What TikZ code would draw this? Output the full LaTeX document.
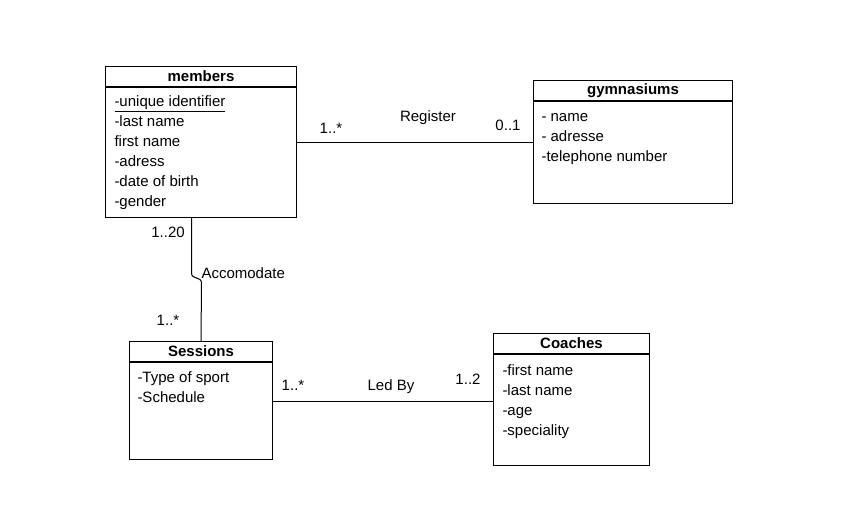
\documentclass[tikz,border=0pt]{standalone}
\usepackage{fontspec}
\setmainfont{Liberation Sans}
\usetikzlibrary{positioning}

\begin{document}
\begin{tikzpicture}[x=1pt,y=-1pt,line width=1pt,
	font=\fontsize{15}{20}\selectfont,
	head/.style={draw,anchor=north west,minimum height=20,inner sep=0,font=\fontsize{15}{20}\selectfont\bfseries},
	body/.style={draw,anchor=north west,inner sep=0},
	attr/.style={anchor=west,inner sep=0,text height=10.7pt,text depth=0pt},
	mult/.style={inner sep=0,text height=10.7pt,text depth=0pt}]
\useasboundingbox[fill=white] (0,0) rectangle (852,526);

\node[head,minimum width=191] (members) at (105,66) {members};
\node[body,minimum width=191,minimum height=130] (members-body) at (members.south west) {};
\foreach \t [count=\i] in {\underline{-unique identifier},-last name,first name,-adress,-date of birth,-gender}
	\node[attr] (members-\i) at ([xshift=9,yshift={6-20*\i}]members-body.north west) {\t};

\node[head,minimum width=199] (gym) at (533,80) {gymnasiums};
\node[body,minimum width=199,minimum height=102] (gym-body) at (gym.south west) {};
\foreach \t [count=\i] in {- name,- adresse,-telephone number}
	\node[attr] (gym-\i) at ([xshift=8,yshift={5-20*\i}]gym-body.north west) {\t};

\node[head,minimum width=143] (sessions) at (129,341) {Sessions};
\node[body,minimum width=143,minimum height=97] (sessions-body) at (sessions.south west) {};
\foreach \t [count=\i] in {-Type of sport,-Schedule}
	\node[attr] (sessions-\i) at ([xshift=8,yshift={5-20*\i}]sessions-body.north west) {\t};

\node[head,minimum width=156] (coaches) at (493,333) {Coaches};
\node[body,minimum width=156,minimum height=111] (coaches-body) at (coaches.south west) {};
\foreach \t [count=\i] in {-first name,-last name,-age,-speciality}
	\node[attr] (coaches-\i) at ([xshift=9,yshift={4-20*\i}]coaches-body.north west) {\t};

\draw ([yshift=10]members-body.east) -- ([yshift=10]gym-body.west);
\draw ([xshift=-9.5]members-body.south) -- ++(0,55) .. controls +(0,7) and +(0,-7) .. ++(10,10) -- (sessions.north);
\draw ([yshift=9.5]sessions-body.east) -- ([yshift=9.5]sessions-body.east -| coaches-body.west);

\node[mult] (reg-m) at (331,128) {1..*};
\node[mult] (reg) at (428,116) {Register};
\node[mult] (reg-g) at (508,125) {0..1};
\node[mult] (acc-m) at (168,232) {1..20};
\node[mult,anchor=west] (acc) at (201,273) {Accomodate};
\node[mult] (acc-s) at (168,320) {1..*};
\node[mult] (led-s) at (293,385) {1..*};
\node[mult] (led) at (391,385) {Led By};
\node[mult] (led-c) at (468,379) {1..2};
\end{tikzpicture}
\end{document}
